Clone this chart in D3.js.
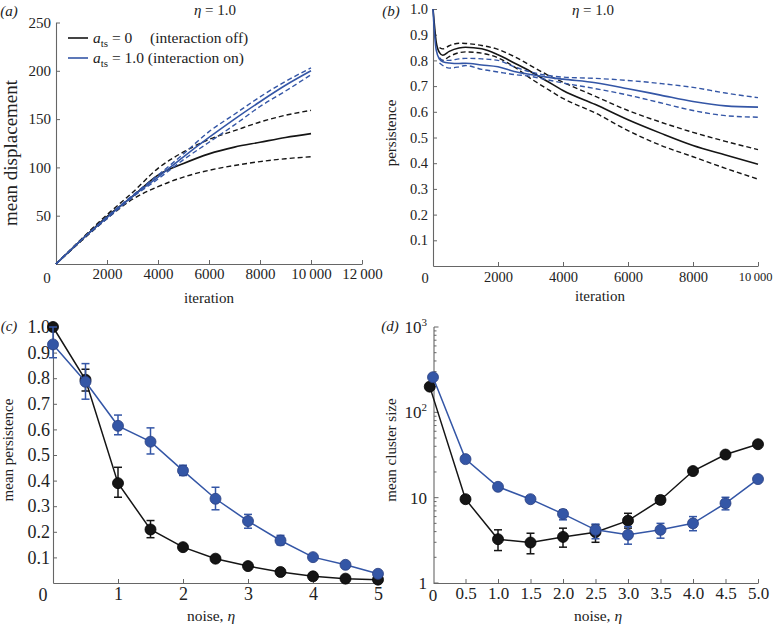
<!DOCTYPE html>
<html><head><meta charset="utf-8">
<script src="https://cdn.jsdelivr.net/npm/d3@7"></script>
<style>
body{margin:0;background:#fff;}
svg{display:block;}
text{font-family:"Liberation Serif","DejaVu Serif",serif;fill:#222;}
</style></head>
<body>
<script>
// ---------- DATA ----------
// Panel (a): mean displacement vs iteration
const iterA = [0,1000,2000,3000,4000,5000,6000,7000,8000,9000,10000];
const dispBlackMean  = [0,25,49,70,92,104,114,121,126,131,135];
const dispBlackUpper = [0,26,51,74,99,116,129,138,147,154,159];
const dispBlackLower = [0,24,47,67,80,90,97,102,106,109,111];
const dispBlueMean   = [0,25,48,70,90,111,131,150,168,185,200];
const dispBlueUpper  = [0,25,49,71,92,114,137,155,173,189,203];
const dispBlueLower  = [0,25,47,69,88,108,126,144,163,179,196];
const xTicksA = [2000,4000,6000,8000,10000,12000];
const xTickLabelsA = ["2000","4000","6000","8000","10\u2009000","12\u2009000"];
const yTicksA = [50,100,150,200,250];

// Panel (b): persistence vs iteration
const iterB = [0,50,100,200,300,500,800,1000,1500,2000,2500,3000,3500,4000,5000,6000,7000,8000,9000,10000];
const persBlackMean  = [1.0,0.93,0.87,0.83,0.82,0.835,0.848,0.851,0.845,0.822,0.79,0.757,0.72,0.683,0.628,0.569,0.517,0.469,0.432,0.396];
const persBlueMean   = [1.0,0.90,0.84,0.805,0.795,0.79,0.788,0.789,0.782,0.775,0.757,0.745,0.735,0.727,0.713,0.69,0.665,0.64,0.623,0.618];
const iterBband = [200,300,500,800,1000,1500,2000,2500,3000,3500,4000,5000,6000,7000,8000,9000,10000];
const persBlackUpper = [0.85,0.845,0.857,0.867,0.866,0.858,0.843,0.815,0.78,0.745,0.715,0.66,0.605,0.56,0.52,0.485,0.453];
const persBlackLower = [0.81,0.80,0.815,0.83,0.833,0.828,0.81,0.775,0.73,0.69,0.652,0.595,0.527,0.47,0.425,0.38,0.338];
const persBlueUpper  = [0.81,0.80,0.80,0.806,0.808,0.806,0.80,0.775,0.755,0.742,0.735,0.73,0.722,0.71,0.695,0.673,0.655];
const persBlueLower  = [0.79,0.78,0.77,0.775,0.78,0.765,0.755,0.745,0.738,0.725,0.712,0.69,0.665,0.635,0.605,0.585,0.579];
const xTicksB = [2000,4000,6000,8000,10000];
const xTickLabelsB = ["2000","4000","6000","8000","10\u2009000"];
const yTicksB = [0.1,0.2,0.3,0.4,0.5,0.6,0.7,0.8,0.9,1.0];

// Panel (c): mean persistence vs noise
const etaC = [0,0.5,1,1.5,2,2.5,3,3.5,4,4.5,5];
const cBlack   = [1.0,0.794,0.39,0.209,0.14,0.095,0.066,0.043,0.026,0.017,0.013];
const cBlackLo = [1.0,0.75,0.335,0.177,0.13,0.09,0.062,0.04,0.023,0.015,0.011];
const cBlackHi = [1.0,0.835,0.452,0.244,0.15,0.1,0.07,0.046,0.029,0.019,0.015];
const cBlue    = [0.932,0.786,0.614,0.552,0.439,0.329,0.242,0.166,0.101,0.071,0.036];
const cBlueLo  = [0.88,0.718,0.579,0.504,0.42,0.286,0.214,0.149,0.095,0.066,0.032];
const cBlueHi  = [1.0,0.857,0.656,0.606,0.46,0.374,0.268,0.186,0.108,0.076,0.04];
const xTicksC = [1,2,3,4,5];
const yTicksC = [0.1,0.2,0.3,0.4,0.5,0.6,0.7,0.8,0.9,1.0];

// Panel (d): mean cluster size vs noise (log)
const etaDBlack = [-0.05,0.5,1,1.5,2,2.5,3,3.5,4,4.5,5];
const etaDBlue  = [0,0.5,1,1.5,2,2.5,3,3.5,4,4.5,5];
const dBlack   = [200,9.6,3.26,2.98,3.47,3.94,5.38,9.4,20.5,32,42.3];
const dBlackLo = [200,8.8,2.4,2.2,2.63,3.0,4.4,8.5,19.5,31,41];
const dBlackHi = [200,10.5,4.2,3.83,4.39,4.8,6.56,10.5,21.5,33,43.5];
const dBlue    = [258,28.3,13.4,9.6,6.45,4.2,3.67,4.2,5.0,8.6,16.5];
const dBlueLo  = [258,27,12.8,8.8,5.5,3.3,2.85,3.35,4.1,7.2,16];
const dBlueHi  = [258,29.5,14,10.4,7.2,4.9,4.58,5.0,6.0,10.1,17];
const xTicksD = [0.5,1,1.5,2,2.5,3,3.5,4,4.5,5];
const yTicksD = [1,10,100,1000];

// ---------- STYLE ----------
const BLACK = "#151515", BLUE = "#3456a6", AXIS = "#666";
const SERIF = '"Liberation Serif","DejaVu Serif",serif';
const W = 774, H = 625;
const svg = d3.select("body").append("svg").attr("width", W).attr("height", H);

function styleAxis(g, fs){
  g.attr("font-family", null).attr("font-size", null);
  g.select(".domain").attr("stroke", AXIS).attr("stroke-width", 1.1);
  g.selectAll(".tick line").attr("stroke", AXIS);
  g.selectAll(".tick text").attr("fill","#222").style("font-family", SERIF).style("font-size", fs+"px");
}
function drawX(x, yPos, vals, labels, fs, pad){
  const ax = d3.axisBottom(x).tickValues(vals).tickSize(-4).tickSizeOuter(0).tickPadding(pad)
    .tickFormat((d,i)=>labels[i]);
  const g = svg.append("g").attr("transform",`translate(0,${yPos})`).call(ax);
  styleAxis(g, fs);
  return g;
}
function drawY(y, xPos, vals, labels, fs, pad){
  const ax = d3.axisLeft(y).tickValues(vals).tickSize(-4).tickSizeOuter(0).tickPadding(pad)
    .tickFormat((d,i)=>labels[i]);
  const g = svg.append("g").attr("transform",`translate(${xPos},0)`).call(ax);
  styleAxis(g, fs);
  return g;
}
function text(x,y,s,fs,opts={}){
  const t = svg.append("text").attr("x",x).attr("y",y).style("font-size",fs+"px")
    .attr("text-anchor",opts.anchor||"middle");
  if(opts.italic) t.attr("font-style","italic");
  if(opts.rotate) t.attr("transform",`rotate(-90,${x},${y})`);
  t.text(s);
  return t;
}
function etaTitle(x,y,fs){
  const t = svg.append("text").attr("x",x).attr("y",y).style("font-size",fs+"px").attr("text-anchor","middle");
  t.append("tspan").attr("font-style","italic").text("\u03b7");
  t.append("tspan").text(" = 1.0");
}
function noiseLabel(x,y,fs){
  const t = svg.append("text").attr("x",x).attr("y",y).style("font-size",fs+"px").attr("text-anchor","middle");
  t.append("tspan").text("noise, ");
  t.append("tspan").attr("font-style","italic").text("\u03b7");
}
function series(xs, ys, x, y, color, dashed){
  const line = d3.line().x((d,i)=>x(xs[i])).y(d=>y(d)).curve(d3.curveMonotoneX);
  svg.append("path").attr("d", line(ys)).attr("fill","none").attr("stroke",color)
    .attr("stroke-width", dashed?1.4:1.6).attr("stroke-dasharray", dashed?"5,3":null);
}
function markers(xs, ys, lo, hi, x, y, color, stroke){
  const line = d3.line().x((d,i)=>x(xs[i])).y(d=>y(d));
  svg.append("path").attr("d", line(ys)).attr("fill","none").attr("stroke",color).attr("stroke-width",1.5);
  const g = svg.append("g");
  ys.forEach((v,i)=>{
    const cx = x(xs[i]);
    if(hi[i]-lo[i] > 0){
      g.append("line").attr("x1",cx).attr("x2",cx).attr("y1",y(lo[i])).attr("y2",y(hi[i])).attr("stroke",color).attr("stroke-width",1.5);
      [lo[i],hi[i]].forEach(e=>g.append("line").attr("x1",cx-4).attr("x2",cx+4).attr("y1",y(e)).attr("y2",y(e)).attr("stroke",color).attr("stroke-width",1.5));
    }
  });
  ys.forEach((v,i)=>{
    g.append("circle").attr("cx",x(xs[i])).attr("cy",y(v)).attr("r",5.5).attr("fill",color).attr("stroke",stroke).attr("stroke-width",0.8);
  });
}

// ---------- PANEL A ----------
const xA = d3.scaleLinear().domain([0,12000]).range([56,362]);
const yA = d3.scaleLinear().domain([0,250]).range([264,22.5]);
drawX(xA, 264, xTicksA, xTickLabelsA, 15, 4);
drawY(yA, 56, yTicksA, yTicksA.map(String), 15, 5);
text(47,283,"0",15);
series(iterA, dispBlackUpper, xA, yA, BLACK, true);
series(iterA, dispBlackLower, xA, yA, BLACK, true);
series(iterA, dispBlackMean, xA, yA, BLACK, false);
series(iterA, dispBlueUpper, xA, yA, BLUE, true);
series(iterA, dispBlueLower, xA, yA, BLUE, true);
series(iterA, dispBlueMean, xA, yA, BLUE, false);
text(209,303,"iteration",15);
text(17,153,"mean displacement",19,{rotate:true});
etaTitle(215,15,15);
text(9,16,"(a)",15,{italic:true});
// legend
svg.append("line").attr("x1",68).attr("x2",88).attr("y1",38).attr("y2",38).attr("stroke",BLACK).attr("stroke-width",1.6);
svg.append("line").attr("x1",68).attr("x2",88).attr("y1",58).attr("y2",58).attr("stroke",BLUE).attr("stroke-width",1.6);
function legendText(y, val){
  const t = svg.append("text").attr("x",93).attr("y",y).style("font-size","15.5px");
  t.append("tspan").attr("font-style","italic").text("a");
  t.append("tspan").style("font-size","11px").attr("dy",4).text("ts");
  t.append("tspan").attr("dy",-4).text(" = " + val);
  return t;
}
legendText(43,"0");
svg.append("text").attr("x",150).attr("y",43).style("font-size","15.5px").text("(interaction off)");
legendText(63,"1.0 (interaction on)");

// ---------- PANEL B ----------
const xB = d3.scaleLinear().domain([0,10000]).range([433,758]);
const yB = d3.scaleLinear().domain([0,1]).range([266,9]);
const gxB = drawX(xB, 266, xTicksB, xTickLabelsB, 14.5, 6);
gxB.selectAll(".tick text").filter(d=>d===10000).attr("text-anchor","end").attr("x",14).style("font-size","12.5px");
drawY(yB, 433, yTicksB, yTicksB.map(d=>d.toFixed(1)), 14.5, 5);
text(425,283,"0",14.5);
series(iterBband, persBlackUpper, xB, yB, BLACK, true);
series(iterBband, persBlackLower, xB, yB, BLACK, true);
series(iterB, persBlackMean, xB, yB, BLACK, false);
series(iterBband, persBlueUpper, xB, yB, BLUE, true);
series(iterBband, persBlueLower, xB, yB, BLUE, true);
series(iterB, persBlueMean, xB, yB, BLUE, false);
text(600,301,"iteration",15);
text(396,133,"persistence",15,{rotate:true});
etaTitle(593,15,15);
text(391,16,"(b)",15,{italic:true});

// ---------- PANEL C ----------
const xC = d3.scaleLinear().domain([0,5]).range([53,378]);
const yC = d3.scaleLinear().domain([0,1]).range([583,327]);
drawX(xC, 583, xTicksC, xTicksC.map(String), 18, 4);
drawY(yC, 53, yTicksC, yTicksC.map(d=>d.toFixed(1)), 18, 3);
text(43,601,"0",18);
markers(etaC, cBlack, cBlackLo, cBlackHi, xC, yC, BLACK, "#000");
markers(etaC, cBlue, cBlueLo, cBlueHi, xC, yC, BLUE, "#2a3f80");
noiseLabel(211,621,15.5);
text(13,450,"mean persistence",15,{rotate:true});
text(9,331,"(c)",15,{italic:true});

// ---------- PANEL D ----------
const xD = d3.scaleLinear().domain([0,5]).range([433,758]);
const yD = d3.scaleLog().domain([1,1000]).range([583,327]);
drawX(xD, 583, xTicksD, xTicksD.map(d=>d.toFixed(1)), 17, 4);
const gyD = svg.append("g").attr("transform","translate(434,0)");
gyD.append("line").attr("x1",0).attr("x2",0).attr("y1",yD(1)).attr("y2",yD(1000)).attr("stroke",AXIS).attr("stroke-width",1.1);
[1,10,100].forEach(dec=>{ for(let k=2;k<=9;k++){ gyD.append("line").attr("x1",0).attr("x2",2.5).attr("y1",yD(dec*k)).attr("y2",yD(dec*k)).attr("stroke",AXIS); } });
yTicksD.forEach(v=>{
  gyD.append("line").attr("x1",0).attr("x2",4.5).attr("y1",yD(v)).attr("y2",yD(v)).attr("stroke",AXIS);
  const t = gyD.append("text").attr("x",-7).attr("y",yD(v)+6).style("font-size","17px").attr("text-anchor","end");
  if(v>=100){ t.append("tspan").text("10"); t.append("tspan").style("font-size","11px").attr("dy",-7).text(String(Math.round(Math.log10(v)))); }
  else t.text(String(v));
});
text(433,601,"0",17);
markers(etaDBlack, dBlack, dBlackLo, dBlackHi, xD, yD, BLACK, "#000");
markers(etaDBlue, dBlue, dBlueLo, dBlueHi, xD, yD, BLUE, "#2a3f80");
noiseLabel(598,621,15.5);
text(396,450,"mean cluster size",15,{rotate:true});
text(390,331,"(d)",15,{italic:true});
</script>
</body></html>
